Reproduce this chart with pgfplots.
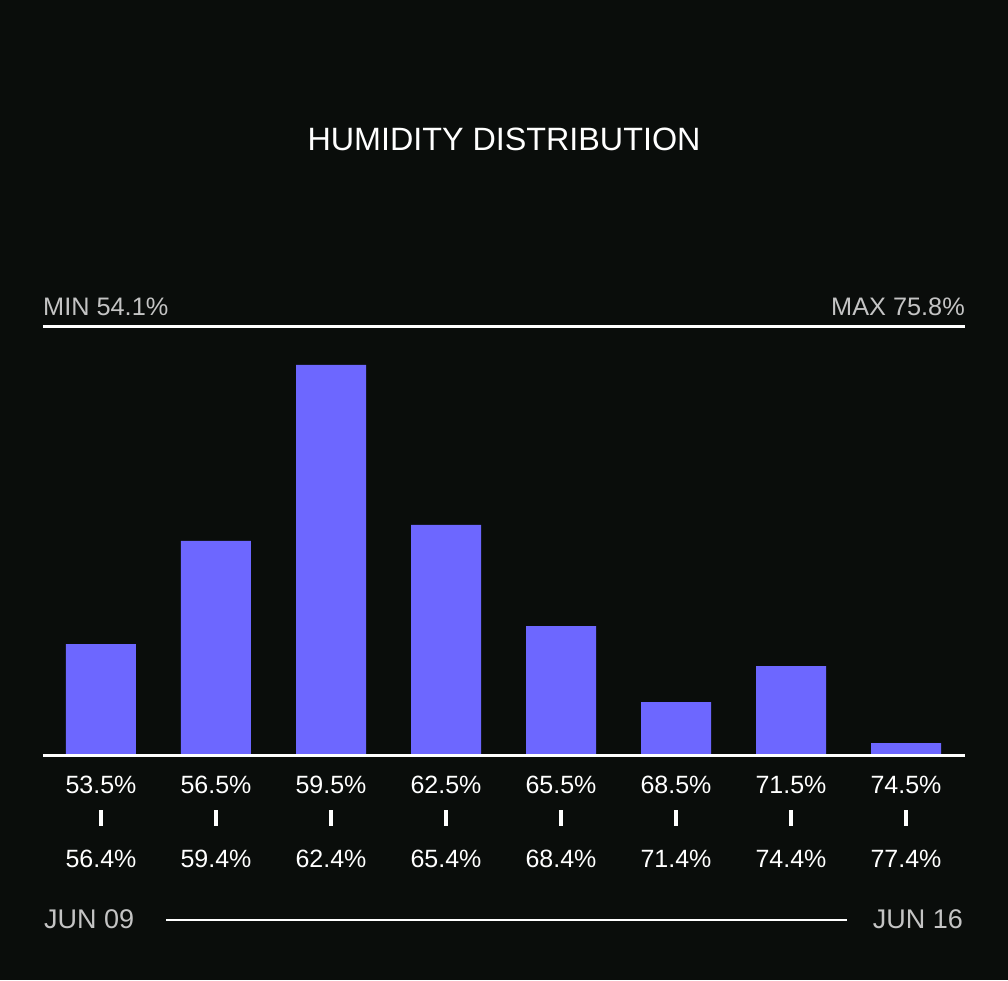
\documentclass[border=0pt]{standalone}
\usepackage{pgfplots}
\pgfplotsset{compat=1.18}
\usepackage{fontspec}
\setmainfont{Liberation Sans}
\definecolor{bg}{HTML}{0A0D0B}
\definecolor{barc}{HTML}{6D67FF}
\definecolor{lab}{HTML}{C4C4C4}
\begin{document}
\begin{tikzpicture}[x=1pt,y=1pt]
\fill[bg] (0,0) rectangle (1008,980);
\begin{axis}[at={(43pt,226pt)}, anchor=south west, scale only axis,
  width=922pt, height=428pt,
  xmin=-0.5043, xmax=7.513, ymin=0, ymax=428,
  axis line style={draw=none}, major tick length=0pt, ytick=\empty,
  xtick={0,1,2,3,4,5,6,7},
  xticklabels={
    {53.5\%\\\rule{4pt}{16pt}\\[10pt]56.4\%},
    {56.5\%\\\rule{4pt}{16pt}\\[10pt]59.4\%},
    {59.5\%\\\rule{4pt}{16pt}\\[10pt]62.4\%},
    {62.5\%\\\rule{4pt}{16pt}\\[10pt]65.4\%},
    {65.5\%\\\rule{4pt}{16pt}\\[10pt]68.4\%},
    {68.5\%\\\rule{4pt}{16pt}\\[10pt]71.4\%},
    {71.5\%\\\rule{4pt}{16pt}\\[10pt]74.4\%},
    {74.5\%\\\rule{4pt}{16pt}\\[10pt]77.4\%}},
  xticklabel style={anchor=north, inner sep=0pt, yshift=-22pt, align=center,
    text=white, font=\fontsize{25}{32}\selectfont},
  clip=false]
\addplot[ybar, bar width=70pt, fill=barc, draw=none] coordinates {
  (0,110) (1,213) (2,389) (3,229) (4,128) (5,52) (6,88) (7,11)};
\draw[white, line width=3pt] ([yshift=-1pt]rel axis cs:0,1) -- ([yshift=-1pt]rel axis cs:1,1);
\draw[white, line width=3pt] ([yshift=-1.5pt]rel axis cs:0,0) -- ([yshift=-1.5pt]rel axis cs:1,0);
\end{axis}
\node[anchor=base, inner sep=0pt, text=white, font=\fontsize{32.3}{38}\selectfont] at (504,829) {HUMIDITY DISTRIBUTION};
\node[anchor=base west, inner sep=0pt, text=lab, font=\fontsize{25.3}{30}\selectfont] at (43,664) {MIN 54.1\%};
\node[anchor=base east, inner sep=0pt, text=lab, font=\fontsize{25.3}{30}\selectfont] at (965,664) {MAX 75.8\%};
\node[anchor=base west, inner sep=0pt, text=lab, font=\fontsize{27}{30}\selectfont] at (44,52) {JUN 09};
\node[anchor=base east, inner sep=0pt, text=lab, font=\fontsize{27}{30}\selectfont] at (963,52) {JUN 16};
\draw[white, line width=2pt] (166,60) -- (847,60);
\end{tikzpicture}
\end{document}
